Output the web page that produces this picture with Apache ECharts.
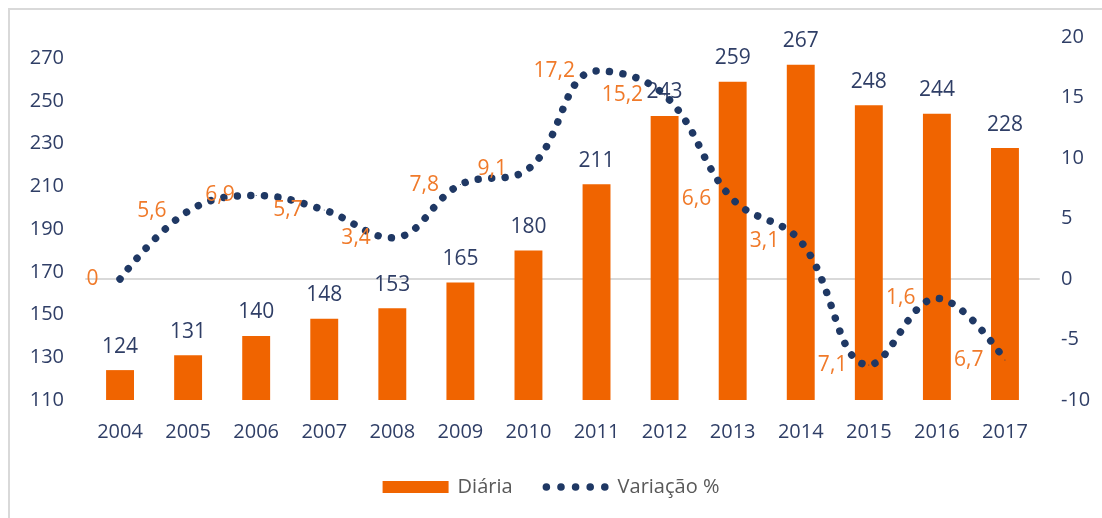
<!DOCTYPE html>
<html>
<head>
<meta charset="utf-8">
<script src="https://cdn.jsdelivr.net/npm/echarts@6/dist/echarts.min.js"></script>
<style>
    html, body { margin: 0; padding: 0; background: #fff; overflow: hidden; }
    .frame { position: absolute; left: 8px; top: 8px; width: 1120px; height: 540px; border: 2px solid #d9d9d9; }
    #chart { position: absolute; left: 0; top: 0; width: 1102px; height: 518px; }
</style>
</head>
<body>
<div class="frame"></div>
<div id="chart"></div>
<script>
    const years = ['2004', '2005', '2006', '2007', '2008', '2009', '2010', '2011', '2012', '2013', '2014', '2015', '2016', '2017'];
    const diaria = [124, 131, 140, 148, 153, 165, 180, 211, 243, 259, 267, 248, 244, 228];
    const variacao = [0, 5.6, 6.9, 5.7, 3.4, 7.8, 9.1, 17.2, 15.2, 6.6, 3.1, -7.1, -1.6, -6.7];

    const textColor = '#2f3e66';
    const orange = '#f06400';
    const navy = '#1f3864';
    const font = 'Open Sans';

    // five dots for the legend of the dotted line
    const dotsIcon = 'path://' + [3.5, 17, 30.5, 44, 57.5].map(cx =>
        `M${cx - 3.5},3.5a3.5,3.5 0 1,0 7,0a3.5,3.5 0 1,0 -7,0z`).join('');

    const myChart = echarts.init(document.getElementById('chart'), null, { renderer: 'canvas' });

    const option = {
        animation: false,
        textStyle: { fontFamily: font },
        grid: { left: 86, right: 63, top: 37, bottom: 118 },
        legend: {
            bottom: 16,
            left: 'center',
            itemWidth: 66,
            itemHeight: 12,
            itemGap: 30,
            symbolKeepAspect: true,
            textStyle: { color: '#595959', fontSize: 20, fontFamily: font, padding: [0, 0, 0, 4] },
            data: [
                { name: 'Diária', icon: 'rect' },
                { name: 'Variação %', icon: dotsIcon, itemStyle: { color: navy } }
            ]
        },
        xAxis: {
            type: 'category',
            data: years,
            axisTick: { show: false },
            axisLine: { lineStyle: { color: '#d9d9d9', width: 2 } },
            axisLabel: { color: textColor, fontSize: 20, margin: 22 }
        },
        yAxis: [
            {
                type: 'value',
                min: 110,
                max: 280,
                interval: 20,
                splitLine: { show: false },
                axisLine: { show: false },
                axisLabel: { color: textColor, fontSize: 20, margin: 22, showMaxLabel: false }
            },
            {
                type: 'value',
                min: -10,
                max: 20,
                interval: 5,
                splitLine: { show: false },
                axisLine: { show: false },
                axisLabel: { color: textColor, fontSize: 20, margin: 22 }
            }
        ],
        series: [
            {
                name: 'Diária',
                type: 'bar',
                data: diaria,
                barWidth: '41%',
                itemStyle: { color: orange },
                label: { show: true, position: 'top', distance: 13, color: textColor, fontSize: 21 }
            },
            {
                name: 'Variação %',
                type: 'line',
                yAxisIndex: 1,
                data: variacao,
                smooth: 0.4,
                symbol: 'circle',
                symbolSize: 1,
                itemStyle: { color: navy },
                lineStyle: { color: navy, width: 7.5, type: [0.01, 13.5], cap: 'round' },
                label: {
                    show: true,
                    position: 'left',
                    distance: 21,
                    color: '#f07a2a',
                    fontSize: 21,
                    formatter: (p) => String(Math.abs(p.value)).replace('.', ',')
                },
                z: 3
            }
        ]
    };

    myChart.setOption(option);
</script>
</body>
</html>
